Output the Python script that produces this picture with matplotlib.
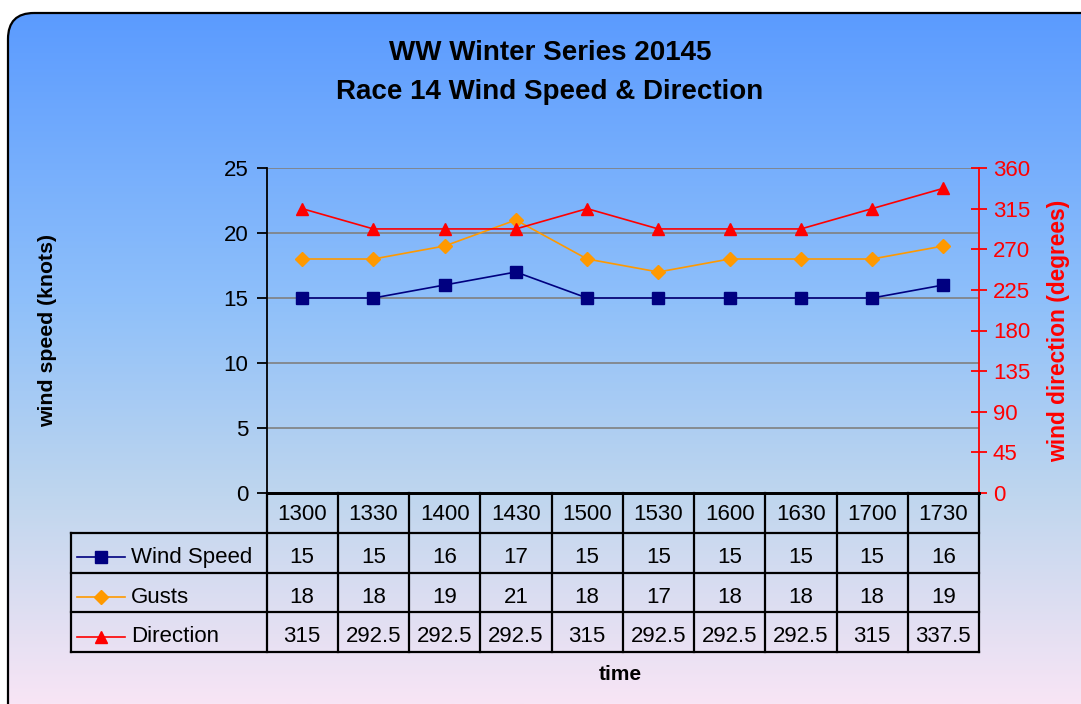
import matplotlib
matplotlib.use("Agg")
import matplotlib.pyplot as plt
import numpy as np
from matplotlib.patches import FancyBboxPatch
from matplotlib.colors import LinearSegmentedColormap

plt.rcParams['font.family'] = ['Liberation Sans', 'DejaVu Sans']

# data
times = ['1300', '1330', '1400', '1430', '1500', '1530', '1600', '1630', '1700', '1730']
wind_speed = [15, 15, 16, 17, 15, 15, 15, 15, 15, 16]
gusts = [18, 18, 19, 21, 18, 17, 18, 18, 18, 19]
direction = [315, 292.5, 292.5, 292.5, 315, 292.5, 292.5, 292.5, 315, 337.5]

W, H = 1081, 704
fig = plt.figure(figsize=(W / 100, H / 100), dpi=100, facecolor='white')

# gradient background inside a rounded frame
bg = fig.add_axes([0, 0, 1, 1], zorder=-10)
bg.set_xlim(0, W)
bg.set_ylim(H, 0)
bg.axis('off')
cmap = LinearSegmentedColormap.from_list('bgc', [
    (0.0, '#5B9BFF'), (0.42, '#8FC0FA'), (0.7, '#BFD6EE'), (1.0, '#F8E5F5')])
grad = np.linspace(0, 1, 256).reshape(-1, 1)
im = bg.imshow(grad, cmap=cmap, aspect='auto', extent=(8, W + 40, H, 13))
frame = FancyBboxPatch((8, 13), W + 20, H + 20,
                       boxstyle='round,pad=0,rounding_size=26',
                       facecolor='none', edgecolor='black', linewidth=1.6)
bg.add_patch(frame)
im.set_clip_path(frame)

# main plot area
L, R, T, B = 266.5, 979, 168, 493
ax = fig.add_axes([L / W, 1 - B / H, (R - L) / W, (B - T) / H])
ax.patch.set_alpha(0)
x = np.arange(len(times))
ax.set_xlim(-0.5, len(times) - 0.5)
ax.set_ylim(0, 25)
ax.set_yticks([0, 5, 10, 15, 20, 25])
ax.yaxis.grid(True, color='#808080', linewidth=1.2)
ax.set_axisbelow(True)
ax.set_xticks([])
for s in ['top', 'right']:
    ax.spines[s].set_visible(False)
ax.spines['left'].set_linewidth(1.3)
ax.spines['bottom'].set_linewidth(2)
ax.tick_params(axis='y', labelsize=16, length=7, width=1.3, direction='out', pad=6)
ax.set_ylabel('wind speed (knots)', fontsize=15.3, fontweight='bold')
ax.yaxis.set_label_coords((57 - L) / (R - L), 0.5)

ax.plot(x, wind_speed, color='#000080', marker='s', markersize=8, linewidth=1.2,
        clip_on=False, zorder=5)
ax.plot(x, gusts, color='#FF9900', marker='D', markersize=7, linewidth=1.2,
        clip_on=False, zorder=5)

ax2 = ax.twinx()
ax2.set_ylim(0, 360)
ax2.set_yticks(np.arange(0, 361, 45))
for s in ['top', 'left', 'bottom']:
    ax2.spines[s].set_visible(False)
ax2.spines['right'].set_color('red')
ax2.spines['right'].set_linewidth(1.3)
ax2.tick_params(axis='y', colors='red', labelsize=16, length=12, width=1.3,
                direction='inout', pad=4)
ax2.set_ylabel('wind direction (degrees)', fontsize=16.4, fontweight='bold',
               color='red')
ax2.yaxis.set_label_coords((1047 - L) / (R - L), 0.5)
ax2.plot(x, direction, color='red', marker='^', markersize=9, linewidth=1.2,
         clip_on=False, zorder=5)

# data table under the plot
TL, TB = 71, 652
tab = fig.add_axes([TL / W, 1 - TB / H, (R - TL) / W, (TB - B) / H])
tab.axis('off')
left_edge = -0.5 - (L - TL) / ((R - L) / len(times))
tab.set_xlim(left_edge, len(times) - 0.5)
tab.set_ylim(4, 0)
lw = 1.6
tab.plot([-0.5, len(times) - 0.5], [0, 0], color='black', lw=2, clip_on=False)
for r in range(1, 5):
    tab.plot([left_edge, len(times) - 0.5], [r, r], color='black', lw=lw, clip_on=False)
tab.plot([left_edge, left_edge], [1, 4], color='black', lw=lw, clip_on=False)
for i in range(len(times) + 1):
    tab.plot([i - 0.5, i - 0.5], [0, 4], color='black', lw=lw, clip_on=False)

for i, t in enumerate(times):
    tab.text(i, 0.55, t, ha='center', va='center', fontsize=16)

rows = [('Wind Speed', wind_speed, '#000080', 's', 8),
        ('Gusts', gusts, '#FF9900', 'D', 7),
        ('Direction', direction, 'red', '^', 9)]
unit = (R - L) / len(times)
k0 = left_edge + (77 - TL) / unit
k1 = left_edge + (125 - TL) / unit
for r, (name, vals, col, mk, ms) in enumerate(rows):
    yc = r + 1.62
    tab.plot([k0, k1], [yc, yc], color=col, lw=1.2, clip_on=False)
    tab.plot([(k0 + k1) / 2], [yc], marker=mk, color=col, markersize=ms, clip_on=False)
    tab.text(left_edge + (131 - TL) / unit, yc, name, ha='left', va='center', fontsize=16)
    for i, v in enumerate(vals):
        tab.text(i, yc, f'{v:g}', ha='center', va='center', fontsize=16)

fig.text(620 / W, 1 - 674 / H, 'time', ha='center', va='center',
         fontsize=15, fontweight='bold')
fig.text(550 / W, 1 - 53 / H, 'WW Winter Series 20145', ha='center', va='center',
         fontsize=20, fontweight='bold')
fig.text(550 / W, 1 - 92 / H, 'Race 14 Wind Speed & Direction', ha='center',
         va='center', fontsize=20, fontweight='bold')

fig.savefig('out.png', dpi=100)
